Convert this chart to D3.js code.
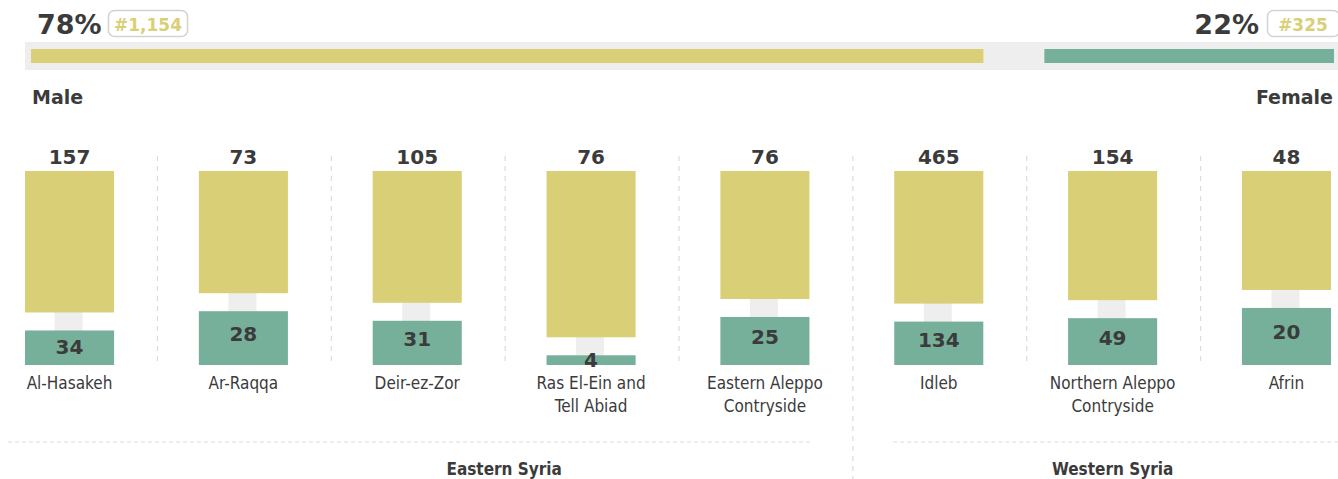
<!DOCTYPE html>
<html>
<head>
<meta charset="utf-8">
<script src="https://cdn.jsdelivr.net/npm/d3@7/dist/d3.min.js"></script>
<style>
  html, body { margin: 0; padding: 0; background: #fff; }
  svg { display: block; }
  .num { font-family: "DejaVu Sans", sans-serif; font-weight: bold; fill: #3b3b3b; }
  .lbl { font-family: "DejaVu Sans Condensed", "DejaVu Sans", sans-serif; fill: #3b3b3b; }
</style>
</head>
<body>
<svg id="chart" width="1338" height="479"></svg>
<script>
// Regions and their male / female counts
const regions = ["Al-Hasakeh", "Ar-Raqqa", "Deir-ez-Zor", "Ras El-Ein and\nTell Abiad",
                 "Eastern Aleppo\nContryside", "Idleb", "Northern Aleppo\nContryside", "Afrin"];
const male   = [157, 73, 105, 76, 76, 465, 154, 48];
const female = [34, 28, 31, 4, 25, 134, 49, 20];
const groups = ["Eastern Syria", "Western Syria"];
const groupOf = [0, 0, 0, 0, 0, 1, 1, 1];

// Totals shown in the header
const maleTotal = 1154, femaleTotal = 325;

const COL_MALE = "#d9cf76", COL_FEMALE = "#76b09b", COL_GREY = "#eeeeee", COL_TEXT = "#3b3b3b";

const svg = d3.select("#chart");

// ---------- header: overall split ----------
const grandTotal = maleTotal + femaleTotal;
const maleShareAll = maleTotal / grandTotal, femaleShareAll = femaleTotal / grandTotal;
const headLeft = 31, headRight = 1334, headGap = 76;
const hw = d3.scaleLinear().domain([0, 1]).range([0, 1318]);

svg.append("rect").attr("x", 25).attr("y", 42).attr("width", 1313).attr("height", 28).attr("fill", COL_GREY);
svg.append("rect").attr("x", headLeft).attr("y", 49)
  .attr("width", hw(maleShareAll) - headGap).attr("height", 14).attr("fill", COL_MALE);
svg.append("rect").attr("x", headRight - hw(femaleShareAll)).attr("y", 49)
  .attr("width", hw(femaleShareAll)).attr("height", 14).attr("fill", COL_FEMALE);

const pct = d3.format(".0%"), cnt = d3.format(",");

// male headline
svg.append("text").attr("class", "num").attr("x", 37).attr("y", 34)
  .style("font-size", "27px").text(pct(maleShareAll));
svg.append("rect").attr("x", 108.5).attr("y", 10.5).attr("width", 79).attr("height", 26).attr("rx", 6)
  .attr("fill", "none").attr("stroke", "#d2d2d2").attr("stroke-width", 1.5);
svg.append("text").attr("class", "num").attr("x", 148).attr("y", 31).attr("text-anchor", "middle")
  .style("font-size", "17px").style("fill", COL_MALE).text("#" + cnt(maleTotal));

// female headline
svg.append("text").attr("class", "num").attr("x", 1259).attr("y", 34).attr("text-anchor", "end")
  .style("font-size", "27px").text(pct(femaleShareAll));
svg.append("rect").attr("x", 1267.5).attr("y", 10.5).attr("width", 72).attr("height", 26).attr("rx", 6)
  .attr("fill", "none").attr("stroke", "#d2d2d2").attr("stroke-width", 1.5);
svg.append("text").attr("class", "num").attr("x", 1303).attr("y", 31).attr("text-anchor", "middle")
  .style("font-size", "17px").style("fill", COL_MALE).text("#" + cnt(femaleTotal));

svg.append("text").attr("class", "num").attr("x", 32).attr("y", 104).style("font-size", "19px").text("Male");
svg.append("text").attr("class", "num").attr("x", 1333).attr("y", 104).attr("text-anchor", "end")
  .style("font-size", "19px").text("Female");

// ---------- per-region columns ----------
const x = d3.scaleBand().domain(regions).range([25, 1331]).paddingInner(0.4876).paddingOuter(0);
const bw = x.bandwidth();
const colTop = 171, colBottom = 365, H = colBottom - colTop, gap = 18, stemW = 28;
const y = d3.scaleLinear().domain([0, 1]).range([0, H]);

const data = regions.map((r, i) => {
  const t = male[i] + female[i];
  return { r, m: male[i], f: female[i], ms: male[i] / t, fs: female[i] / t };
});

// dashed separators between columns
const seps = regions.slice(1).map((r, i) => (x(regions[i]) + bw + x(r)) / 2 + 1);
seps.forEach((sx, i) => {
  const isGroupEdge = groupOf[i] !== groupOf[i + 1];
  svg.append("line").attr("x1", sx).attr("x2", sx)
    .attr("y1", 156).attr("y2", isGroupEdge ? 479 : 365)
    .attr("stroke", "#dcdcdc").attr("stroke-width", 1.2).attr("stroke-dasharray", "5,5");
});

const col = svg.selectAll("g.col").data(data).join("g").attr("class", "col")
  .attr("transform", d => `translate(${x(d.r)},0)`);

// grey stem behind both bars
col.append("rect").attr("x", bw / 2 - stemW / 2 - 1).attr("y", colTop).attr("width", stemW).attr("height", H)
  .attr("fill", COL_GREY);

col.append("rect").attr("x", 0).attr("y", colTop).attr("width", bw)
  .attr("height", d => y(d.ms) - gap).attr("fill", COL_MALE);

col.append("rect").attr("x", 0).attr("y", d => colBottom - y(d.fs)).attr("width", bw)
  .attr("height", d => y(d.fs)).attr("fill", COL_FEMALE);

col.append("text").attr("class", "num").attr("x", bw / 2).attr("y", 164).attr("text-anchor", "middle")
  .style("font-size", "20px").text(d => d.m);

col.append("text").attr("class", "num").attr("x", bw / 2)
  .attr("y", d => {
    const h = y(d.fs);
    const c = colBottom - h / 2 - Math.min(4, Math.max(0, (h - 30) / 4));
    return c + 7;
  })
  .attr("text-anchor", "middle").style("font-size", "20px").text(d => d.f);

// region names (may wrap onto two lines)
col.append("text").attr("class", "lbl").attr("x", bw / 2).attr("y", 389).attr("text-anchor", "middle")
  .style("font-size", "17px")
  .each(function (d) {
    d.r.split("\n").forEach((line, k) => {
      d3.select(this).append("tspan").attr("x", bw / 2).attr("dy", k === 0 ? 0 : 23).text(line);
    });
  });

// ---------- group footers ----------
const groupSpan = g => {
  const idx = regions.map((r, i) => i).filter(i => groupOf[i] === g);
  return [x(regions[idx[0]]), x(regions[idx[idx.length - 1]]) + bw];
};
const [e0, e1] = groupSpan(0), [w0, w1] = groupSpan(1);

svg.append("line").attr("x1", 8).attr("x2", e1 + 1).attr("y1", 442).attr("y2", 442)
  .attr("stroke", "#dcdcdc").attr("stroke-width", 1.2).attr("stroke-dasharray", "4,3");
svg.append("line").attr("x1", w0 - 1).attr("x2", 1338).attr("y1", 442).attr("y2", 442)
  .attr("stroke", "#dcdcdc").attr("stroke-width", 1.2).attr("stroke-dasharray", "4,3");

svg.append("text").attr("class", "lbl").attr("x", (x(regions[1]) + e1) / 2).attr("y", 475)
  .attr("text-anchor", "middle").style("font-size", "17px").style("font-weight", "bold").text(groups[0]);
svg.append("text").attr("class", "lbl").attr("x", (w0 + w1) / 2).attr("y", 475)
  .attr("text-anchor", "middle").style("font-size", "17px").style("font-weight", "bold").text(groups[1]);
</script>
</body>
</html>
